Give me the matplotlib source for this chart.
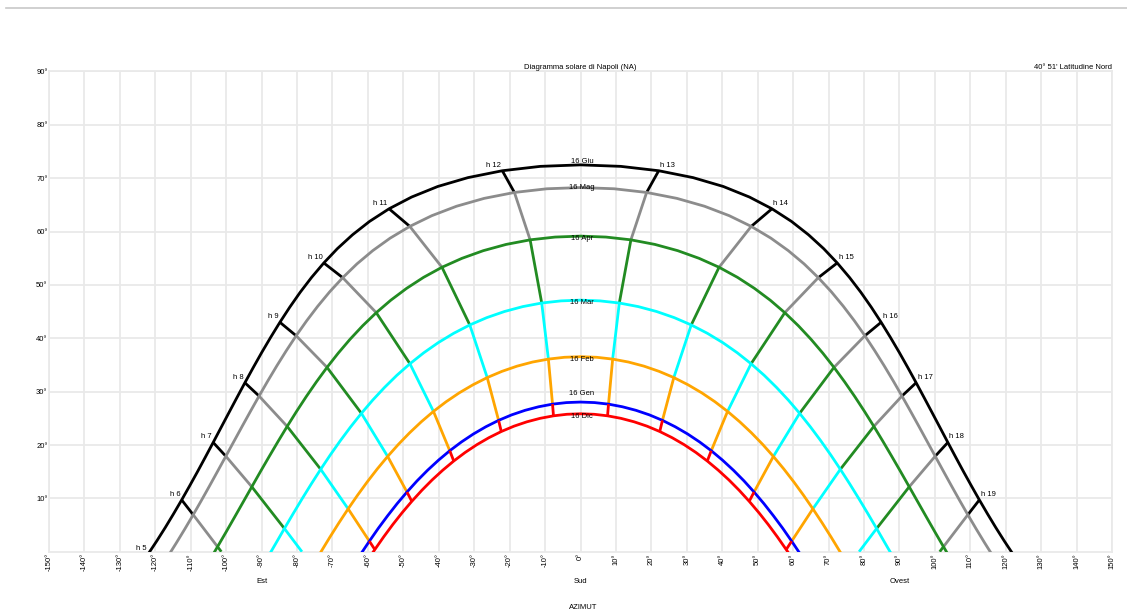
import numpy as np
import matplotlib.pyplot as plt
from matplotlib.lines import Line2D

plt.rcParams['font.family'] = ['Liberation Sans', 'DejaVu Sans']

# sun path of each date, afternoon half (azimuth from south, altitude),
# one point every quarter hour of solar time from noon, last point = sunset.
# entries 2, 6, 10, ... are the hour marks (h 13, h 14, ...)
dates = ['16 Giu', '16 Mag', '16 Apr', '16 Mar', '16 Feb', '16 Gen', '16 Dic']
colors = ['#000000', '#8c8c8c', '#228b22', '#00ffff', '#ffa500', '#0000ff', '#ff0000']

giu_az = [0, 11.34, 22.07, 31.77, 40.29, 47.67, 54.03, 59.55, 64.36, 68.64, 72.45, 75.93,
          79.12, 82.07, 84.84, 87.46, 89.97, 92.38, 94.72, 97.00, 99.25, 101.47, 103.67,
          105.87, 108.08, 110.31, 112.56, 114.85, 117.17, 119.55, 121.60]
giu_alt = [72.50, 72.22, 71.40, 70.11, 68.45, 66.47, 64.27, 61.90, 59.39, 56.79, 54.12, 51.39,
           48.62, 45.82, 43.00, 40.17, 37.34, 34.50, 31.67, 28.85, 26.04, 23.25, 20.48,
           17.74, 15.02, 12.35, 9.71, 7.11, 4.56, 2.06, 0]

mag_az = [0, 9.50, 18.66, 27.20, 34.98, 41.96, 48.18, 53.72, 58.65, 63.10, 67.11, 70.78,
          74.16, 77.31, 80.26, 83.04, 85.70, 88.25, 90.72, 93.12, 95.48, 97.80, 100.10,
          102.39, 104.68, 106.98, 109.31, 111.66, 114.06, 115.63]
mag_alt = [68.25, 68.02, 67.33, 66.22, 64.75, 62.98, 60.97, 58.77, 56.42, 53.94, 51.36, 48.72,
           46.01, 43.26, 40.48, 37.67, 34.85, 32.02, 29.18, 26.35, 23.52, 20.70, 17.90,
           15.12, 12.36, 9.63, 6.93, 4.28, 1.66, 0]

apr_az = [0, 7.18, 14.22, 21.00, 27.44, 33.48, 39.10, 44.30, 49.10, 53.54, 57.65, 61.48,
          65.04, 68.39, 71.54, 74.54, 77.40, 80.14, 82.79, 85.36, 87.87, 90.34, 92.77,
          95.19, 97.60, 100.01, 102.44, 103.27]
apr_alt = [59.15, 58.97, 58.45, 57.59, 56.42, 54.98, 53.31, 51.42, 49.35, 47.14, 44.80, 42.35,
           39.82, 37.21, 34.55, 31.83, 29.08, 26.30, 23.49, 20.67, 17.84, 15.01, 12.17,
           9.34, 6.52, 3.72, 0.94, 0]

mar_az = [0, 5.50, 10.95, 16.28, 21.46, 26.46, 31.25, 35.81, 40.14, 44.25, 48.14, 51.84,
          55.33, 58.67, 61.84, 64.88, 67.80, 70.61, 73.33, 75.97, 78.55, 81.08, 83.57,
          86.03, 87.36]
mar_alt = [47.15, 47.01, 46.61, 45.94, 45.02, 43.87, 42.50, 40.93, 39.19, 37.28, 35.23, 33.06,
           30.78, 28.40, 25.94, 23.40, 20.80, 18.15, 15.45, 12.72, 9.95, 7.16, 4.35,
           1.52, 0]

feb_az = [0, 4.55, 9.07, 13.53, 17.91, 22.18, 26.33, 30.34, 34.21, 37.93, 41.50, 44.94,
          48.23, 51.40, 54.43, 57.37, 60.19, 62.93, 65.58, 68.17, 70.70, 73.24]
feb_alt = [36.55, 36.44, 36.10, 35.55, 34.78, 33.80, 32.64, 31.29, 29.78, 28.11, 26.30, 24.35,
           22.29, 20.12, 17.86, 15.51, 13.09, 10.59, 8.04, 5.43, 2.77, 0]

gen_az = [0, 3.96, 7.90, 11.80, 15.65, 19.43, 23.12, 26.72, 30.22, 33.61, 36.90, 40.08,
          43.15, 46.12, 48.98, 51.76, 54.44, 57.06, 59.59, 61.58]
gen_alt = [28.05, 27.95, 27.66, 27.17, 26.50, 25.65, 24.62, 23.42, 22.07, 20.57, 18.93, 17.16,
           15.28, 13.29, 11.19, 9.01, 6.74, 4.40, 1.98, 0]

dic_az = [0, 3.82, 7.63, 11.40, 15.12, 18.78, 22.36, 25.86, 29.26, 32.57, 35.78, 38.88,
          41.89, 44.80, 47.61, 50.35, 52.99, 55.56, 58.05, 58.47]
dic_alt = [25.85, 25.76, 25.47, 25.00, 24.35, 23.53, 22.53, 21.37, 20.06, 18.60, 17.00, 15.28,
           13.45, 11.50, 9.45, 7.31, 5.09, 2.78, 0.41, 0]

curves_az = [giu_az, mag_az, apr_az, mar_az, feb_az, gen_az, dic_az]
curves_alt = [giu_alt, mag_alt, apr_alt, mar_alt, feb_alt, gen_alt, dic_alt]

afternoon_hours = ['h 13', 'h 14', 'h 15', 'h 16', 'h 17', 'h 18', 'h 19']
morning_hours = ['h 12', 'h 11', 'h 10', 'h 9', 'h 8', 'h 7', 'h 6']
# where an hour line reaches the horizon before the next date curve
horizon_az = [None, None, None, None, None, 78.62, 101.37]
h5_az, h5_alt = -121.98, -0.37

x_ticks = np.arange(-150, 151, 10)
y_ticks = np.arange(10, 91, 10)

fig = plt.figure(figsize=(11.27, 6.11), dpi=100)
ax = fig.add_axes([0.0435, 0.0970, 0.9432, 0.7860])

ax.set_xlim(-150, 150)
ax.set_ylim(0, 90)
ax.set_xticks(x_ticks)
ax.set_xticklabels([f'{t}°' for t in x_ticks], rotation=90, fontsize=5.5)
ax.set_yticks(y_ticks)
ax.set_yticklabels([f'{t}°' for t in y_ticks], fontsize=5.5)
ax.tick_params(length=0, pad=1)
ax.grid(True, color='#e9e9e9', linewidth=1.3)
ax.set_axisbelow(True)
for s in ax.spines.values():
    s.set_color('#e9e9e9')
    s.set_linewidth(1.3)

ax.set_title('Diagramma solare di Napoli (NA)', fontsize=5.5, pad=2)
ax.set_title("40° 51' Latitudine Nord", fontsize=5.5, pad=2, loc='right')

# hour marks of every date (afternoon side)
hour_az = [np.array(a[:-1][2::4]) for a in curves_az]
hour_alt = [np.array(a[:-1][2::4]) for a in curves_alt]

lw = 2.0
for i, (az, alt) in enumerate(zip(curves_az, curves_alt)):
    az = np.array(az)
    alt = np.array(alt)
    full_az = np.concatenate([-az[::-1], az[1:]])
    full_alt = np.concatenate([alt[::-1], alt[1:]])
    ax.plot(full_az, full_alt, color=colors[i], lw=lw, zorder=3 + i)

    if i == len(dates) - 1:
        continue
    seg_color = colors[-1] if i == len(dates) - 2 else colors[i]
    for k in range(len(hour_az[i])):
        a0, h0 = hour_az[i][k], hour_alt[i][k]
        if k < len(hour_az[i + 1]):
            a1, h1 = hour_az[i + 1][k], hour_alt[i + 1][k]
        elif horizon_az[k] is not None:
            a1, h1 = horizon_az[k], 0
        else:
            continue
        for sgn in (1, -1):
            ax.plot([sgn * a0, sgn * a1], [h0, h1], color=seg_color, lw=lw,
                    zorder=3 + i + 0.5, solid_capstyle='butt')

# hour labels along the 16 Giu curve
for k, lab in enumerate(afternoon_hours):
    ax.annotate(lab, (hour_az[0][k], hour_alt[0][k]), xytext=(1, 1.5),
                textcoords='offset points', ha='left', va='bottom', fontsize=5.5, zorder=20)
for k, lab in enumerate(morning_hours):
    ax.annotate(lab, (-hour_az[0][k], hour_alt[0][k]), xytext=(-1, 1.5),
                textcoords='offset points', ha='right', va='bottom', fontsize=5.5, zorder=20)
ax.annotate('h 5', (h5_az, h5_alt), xytext=(-1, 1.5), textcoords='offset points',
            ha='right', va='bottom', fontsize=5.5, zorder=20, annotation_clip=False)

# date labels at noon
label_shift = [2.5, 0, -2, -2, -2, 6, -2]
for i, name in enumerate(dates):
    ax.annotate(name, (0, curves_alt[i][0]), xytext=(1, label_shift[i]),
                textcoords='offset points', ha='center', va='center', fontsize=5.5, zorder=20)

xt = ax.get_xaxis_transform()
ax.text(-90, -0.063, 'Est', transform=xt, ha='center', va='center', fontsize=5.5)
ax.text(0, -0.063, 'Sud', transform=xt, ha='center', va='center', fontsize=5.5)
ax.text(90, -0.063, 'Ovest', transform=xt, ha='center', va='center', fontsize=5.5)
ax.text(0.8, -0.117, 'AZIMUT', transform=xt, ha='center', va='center', fontsize=5.5)

fig.add_artist(Line2D([0.005, 1], [0.9865, 0.9865], color='#c8c8c8', lw=1.2))

fig.savefig('out.png', dpi=100)
